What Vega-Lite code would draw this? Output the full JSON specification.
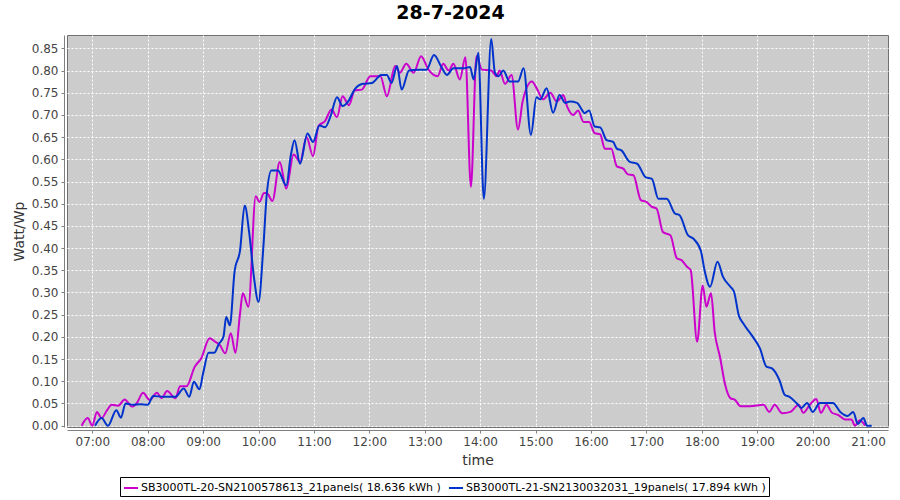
{
  "$schema": "https://vega.github.io/schema/vega-lite/v6.json",
  "width": 821,
  "height": 392,
  "autosize": {"type": "none"},
  "padding": {"left": 67, "top": 35, "right": 12, "bottom": 73},
  "background": "white",
  "title": {"text": "28-7-2024", "font": "DejaVu Sans", "fontSize": 19, "fontWeight": "bold", "color": "#000000", "anchor": "middle", "frame": "group", "dx": -27, "offset": 12},
  "config": {
    "view": {"fill": "#cccccc", "stroke": "#707070", "strokeWidth": 1},
    "axis": {"labelFont": "DejaVu Sans", "labelFontSize": 12, "labelColor": "#444444", "titleFont": "DejaVu Sans", "titleFontSize": 14, "titleFontWeight": "normal", "titleColor": "#333333", "gridColor": "#ffffff", "gridDash": [2, 2], "gridWidth": 1, "gridOpacity": 1, "domainColor": "#808080", "tickColor": "#808080", "tickSize": 3}
  },
  "data": {"values": [
    {"series": "SB3000TL-20-SN2100578613_21panels( 18.636 kWh )", "time": "2024-07-28T06:48:30", "v": 0.0},
    {"series": "SB3000TL-20-SN2100578613_21panels( 18.636 kWh )", "time": "2024-07-28T06:55", "v": 0.017},
    {"series": "SB3000TL-20-SN2100578613_21panels( 18.636 kWh )", "time": "2024-07-28T07:00", "v": 0.0},
    {"series": "SB3000TL-20-SN2100578613_21panels( 18.636 kWh )", "time": "2024-07-28T07:05", "v": 0.031},
    {"series": "SB3000TL-20-SN2100578613_21panels( 18.636 kWh )", "time": "2024-07-28T07:10", "v": 0.017},
    {"series": "SB3000TL-20-SN2100578613_21panels( 18.636 kWh )", "time": "2024-07-28T07:16", "v": 0.035},
    {"series": "SB3000TL-20-SN2100578613_21panels( 18.636 kWh )", "time": "2024-07-28T07:21", "v": 0.047},
    {"series": "SB3000TL-20-SN2100578613_21panels( 18.636 kWh )", "time": "2024-07-28T07:28", "v": 0.045},
    {"series": "SB3000TL-20-SN2100578613_21panels( 18.636 kWh )", "time": "2024-07-28T07:35", "v": 0.059},
    {"series": "SB3000TL-20-SN2100578613_21panels( 18.636 kWh )", "time": "2024-07-28T07:43", "v": 0.043},
    {"series": "SB3000TL-20-SN2100578613_21panels( 18.636 kWh )", "time": "2024-07-28T07:48", "v": 0.05},
    {"series": "SB3000TL-20-SN2100578613_21panels( 18.636 kWh )", "time": "2024-07-28T07:55", "v": 0.074},
    {"series": "SB3000TL-20-SN2100578613_21panels( 18.636 kWh )", "time": "2024-07-28T08:02", "v": 0.058},
    {"series": "SB3000TL-20-SN2100578613_21panels( 18.636 kWh )", "time": "2024-07-28T08:10", "v": 0.074},
    {"series": "SB3000TL-20-SN2100578613_21panels( 18.636 kWh )", "time": "2024-07-28T08:15", "v": 0.062},
    {"series": "SB3000TL-20-SN2100578613_21panels( 18.636 kWh )", "time": "2024-07-28T08:21", "v": 0.078},
    {"series": "SB3000TL-20-SN2100578613_21panels( 18.636 kWh )", "time": "2024-07-28T08:30", "v": 0.062},
    {"series": "SB3000TL-20-SN2100578613_21panels( 18.636 kWh )", "time": "2024-07-28T08:35", "v": 0.089},
    {"series": "SB3000TL-20-SN2100578613_21panels( 18.636 kWh )", "time": "2024-07-28T08:42", "v": 0.089},
    {"series": "SB3000TL-20-SN2100578613_21panels( 18.636 kWh )", "time": "2024-07-28T08:51", "v": 0.133},
    {"series": "SB3000TL-20-SN2100578613_21panels( 18.636 kWh )", "time": "2024-07-28T08:58", "v": 0.152},
    {"series": "SB3000TL-20-SN2100578613_21panels( 18.636 kWh )", "time": "2024-07-28T09:07", "v": 0.197},
    {"series": "SB3000TL-20-SN2100578613_21panels( 18.636 kWh )", "time": "2024-07-28T09:13", "v": 0.189},
    {"series": "SB3000TL-20-SN2100578613_21panels( 18.636 kWh )", "time": "2024-07-28T09:18", "v": 0.182},
    {"series": "SB3000TL-20-SN2100578613_21panels( 18.636 kWh )", "time": "2024-07-28T09:24", "v": 0.163},
    {"series": "SB3000TL-20-SN2100578613_21panels( 18.636 kWh )", "time": "2024-07-28T09:30", "v": 0.208},
    {"series": "SB3000TL-20-SN2100578613_21panels( 18.636 kWh )", "time": "2024-07-28T09:35", "v": 0.164},
    {"series": "SB3000TL-20-SN2100578613_21panels( 18.636 kWh )", "time": "2024-07-28T09:40", "v": 0.253},
    {"series": "SB3000TL-20-SN2100578613_21panels( 18.636 kWh )", "time": "2024-07-28T09:43", "v": 0.298},
    {"series": "SB3000TL-20-SN2100578613_21panels( 18.636 kWh )", "time": "2024-07-28T09:49", "v": 0.268},
    {"series": "SB3000TL-20-SN2100578613_21panels( 18.636 kWh )", "time": "2024-07-28T09:57", "v": 0.517},
    {"series": "SB3000TL-20-SN2100578613_21panels( 18.636 kWh )", "time": "2024-07-28T10:01", "v": 0.504},
    {"series": "SB3000TL-20-SN2100578613_21panels( 18.636 kWh )", "time": "2024-07-28T10:06", "v": 0.524},
    {"series": "SB3000TL-20-SN2100578613_21panels( 18.636 kWh )", "time": "2024-07-28T10:09", "v": 0.524},
    {"series": "SB3000TL-20-SN2100578613_21panels( 18.636 kWh )", "time": "2024-07-28T10:15", "v": 0.506},
    {"series": "SB3000TL-20-SN2100578613_21panels( 18.636 kWh )", "time": "2024-07-28T10:23", "v": 0.594},
    {"series": "SB3000TL-20-SN2100578613_21panels( 18.636 kWh )", "time": "2024-07-28T10:30", "v": 0.534},
    {"series": "SB3000TL-20-SN2100578613_21panels( 18.636 kWh )", "time": "2024-07-28T10:38", "v": 0.611},
    {"series": "SB3000TL-20-SN2100578613_21panels( 18.636 kWh )", "time": "2024-07-28T10:45", "v": 0.594},
    {"series": "SB3000TL-20-SN2100578613_21panels( 18.636 kWh )", "time": "2024-07-28T10:52", "v": 0.65},
    {"series": "SB3000TL-20-SN2100578613_21panels( 18.636 kWh )", "time": "2024-07-28T10:59", "v": 0.607},
    {"series": "SB3000TL-20-SN2100578613_21panels( 18.636 kWh )", "time": "2024-07-28T11:05", "v": 0.675},
    {"series": "SB3000TL-20-SN2100578613_21panels( 18.636 kWh )", "time": "2024-07-28T11:12", "v": 0.686},
    {"series": "SB3000TL-20-SN2100578613_21panels( 18.636 kWh )", "time": "2024-07-28T11:19", "v": 0.712},
    {"series": "SB3000TL-20-SN2100578613_21panels( 18.636 kWh )", "time": "2024-07-28T11:25", "v": 0.695},
    {"series": "SB3000TL-20-SN2100578613_21panels( 18.636 kWh )", "time": "2024-07-28T11:31", "v": 0.742},
    {"series": "SB3000TL-20-SN2100578613_21panels( 18.636 kWh )", "time": "2024-07-28T11:38", "v": 0.722},
    {"series": "SB3000TL-20-SN2100578613_21panels( 18.636 kWh )", "time": "2024-07-28T11:44", "v": 0.755},
    {"series": "SB3000TL-20-SN2100578613_21panels( 18.636 kWh )", "time": "2024-07-28T11:52", "v": 0.757},
    {"series": "SB3000TL-20-SN2100578613_21panels( 18.636 kWh )", "time": "2024-07-28T12:01", "v": 0.787},
    {"series": "SB3000TL-20-SN2100578613_21panels( 18.636 kWh )", "time": "2024-07-28T12:12", "v": 0.787},
    {"series": "SB3000TL-20-SN2100578613_21panels( 18.636 kWh )", "time": "2024-07-28T12:19", "v": 0.742},
    {"series": "SB3000TL-20-SN2100578613_21panels( 18.636 kWh )", "time": "2024-07-28T12:28", "v": 0.81},
    {"series": "SB3000TL-20-SN2100578613_21panels( 18.636 kWh )", "time": "2024-07-28T12:33", "v": 0.795},
    {"series": "SB3000TL-20-SN2100578613_21panels( 18.636 kWh )", "time": "2024-07-28T12:40", "v": 0.815},
    {"series": "SB3000TL-20-SN2100578613_21panels( 18.636 kWh )", "time": "2024-07-28T12:48", "v": 0.795},
    {"series": "SB3000TL-20-SN2100578613_21panels( 18.636 kWh )", "time": "2024-07-28T12:56", "v": 0.832},
    {"series": "SB3000TL-20-SN2100578613_21panels( 18.636 kWh )", "time": "2024-07-28T13:04", "v": 0.802},
    {"series": "SB3000TL-20-SN2100578613_21panels( 18.636 kWh )", "time": "2024-07-28T13:14", "v": 0.787},
    {"series": "SB3000TL-20-SN2100578613_21panels( 18.636 kWh )", "time": "2024-07-28T13:20", "v": 0.815},
    {"series": "SB3000TL-20-SN2100578613_21panels( 18.636 kWh )", "time": "2024-07-28T13:26", "v": 0.8},
    {"series": "SB3000TL-20-SN2100578613_21panels( 18.636 kWh )", "time": "2024-07-28T13:31", "v": 0.815},
    {"series": "SB3000TL-20-SN2100578613_21panels( 18.636 kWh )", "time": "2024-07-28T13:38", "v": 0.78},
    {"series": "SB3000TL-20-SN2100578613_21panels( 18.636 kWh )", "time": "2024-07-28T13:44", "v": 0.83},
    {"series": "SB3000TL-20-SN2100578613_21panels( 18.636 kWh )", "time": "2024-07-28T13:50", "v": 0.538},
    {"series": "SB3000TL-20-SN2100578613_21panels( 18.636 kWh )", "time": "2024-07-28T13:56", "v": 0.832},
    {"series": "SB3000TL-20-SN2100578613_21panels( 18.636 kWh )", "time": "2024-07-28T14:02", "v": 0.802},
    {"series": "SB3000TL-20-SN2100578613_21panels( 18.636 kWh )", "time": "2024-07-28T14:12", "v": 0.8},
    {"series": "SB3000TL-20-SN2100578613_21panels( 18.636 kWh )", "time": "2024-07-28T14:18", "v": 0.787},
    {"series": "SB3000TL-20-SN2100578613_21panels( 18.636 kWh )", "time": "2024-07-28T14:21", "v": 0.8},
    {"series": "SB3000TL-20-SN2100578613_21panels( 18.636 kWh )", "time": "2024-07-28T14:27", "v": 0.77},
    {"series": "SB3000TL-20-SN2100578613_21panels( 18.636 kWh )", "time": "2024-07-28T14:34", "v": 0.79},
    {"series": "SB3000TL-20-SN2100578613_21panels( 18.636 kWh )", "time": "2024-07-28T14:41", "v": 0.667},
    {"series": "SB3000TL-20-SN2100578613_21panels( 18.636 kWh )", "time": "2024-07-28T14:46", "v": 0.73},
    {"series": "SB3000TL-20-SN2100578613_21panels( 18.636 kWh )", "time": "2024-07-28T14:56", "v": 0.775},
    {"series": "SB3000TL-20-SN2100578613_21panels( 18.636 kWh )", "time": "2024-07-28T15:02", "v": 0.757},
    {"series": "SB3000TL-20-SN2100578613_21panels( 18.636 kWh )", "time": "2024-07-28T15:08", "v": 0.735},
    {"series": "SB3000TL-20-SN2100578613_21panels( 18.636 kWh )", "time": "2024-07-28T15:16", "v": 0.75},
    {"series": "SB3000TL-20-SN2100578613_21panels( 18.636 kWh )", "time": "2024-07-28T15:23", "v": 0.73},
    {"series": "SB3000TL-20-SN2100578613_21panels( 18.636 kWh )", "time": "2024-07-28T15:30", "v": 0.745},
    {"series": "SB3000TL-20-SN2100578613_21panels( 18.636 kWh )", "time": "2024-07-28T15:34", "v": 0.72},
    {"series": "SB3000TL-20-SN2100578613_21panels( 18.636 kWh )", "time": "2024-07-28T15:41", "v": 0.7},
    {"series": "SB3000TL-20-SN2100578613_21panels( 18.636 kWh )", "time": "2024-07-28T15:46", "v": 0.71},
    {"series": "SB3000TL-20-SN2100578613_21panels( 18.636 kWh )", "time": "2024-07-28T15:52", "v": 0.684},
    {"series": "SB3000TL-20-SN2100578613_21panels( 18.636 kWh )", "time": "2024-07-28T15:58", "v": 0.684},
    {"series": "SB3000TL-20-SN2100578613_21panels( 18.636 kWh )", "time": "2024-07-28T16:04", "v": 0.659},
    {"series": "SB3000TL-20-SN2100578613_21panels( 18.636 kWh )", "time": "2024-07-28T16:10", "v": 0.656},
    {"series": "SB3000TL-20-SN2100578613_21panels( 18.636 kWh )", "time": "2024-07-28T16:15", "v": 0.624},
    {"series": "SB3000TL-20-SN2100578613_21panels( 18.636 kWh )", "time": "2024-07-28T16:22", "v": 0.624},
    {"series": "SB3000TL-20-SN2100578613_21panels( 18.636 kWh )", "time": "2024-07-28T16:28", "v": 0.584},
    {"series": "SB3000TL-20-SN2100578613_21panels( 18.636 kWh )", "time": "2024-07-28T16:35", "v": 0.579},
    {"series": "SB3000TL-20-SN2100578613_21panels( 18.636 kWh )", "time": "2024-07-28T16:40", "v": 0.566},
    {"series": "SB3000TL-20-SN2100578613_21panels( 18.636 kWh )", "time": "2024-07-28T16:46", "v": 0.564},
    {"series": "SB3000TL-20-SN2100578613_21panels( 18.636 kWh )", "time": "2024-07-28T16:54", "v": 0.508},
    {"series": "SB3000TL-20-SN2100578613_21panels( 18.636 kWh )", "time": "2024-07-28T17:00", "v": 0.504},
    {"series": "SB3000TL-20-SN2100578613_21panels( 18.636 kWh )", "time": "2024-07-28T17:06", "v": 0.493},
    {"series": "SB3000TL-20-SN2100578613_21panels( 18.636 kWh )", "time": "2024-07-28T17:11", "v": 0.489},
    {"series": "SB3000TL-20-SN2100578613_21panels( 18.636 kWh )", "time": "2024-07-28T17:18", "v": 0.436},
    {"series": "SB3000TL-20-SN2100578613_21panels( 18.636 kWh )", "time": "2024-07-28T17:26", "v": 0.429},
    {"series": "SB3000TL-20-SN2100578613_21panels( 18.636 kWh )", "time": "2024-07-28T17:33", "v": 0.377},
    {"series": "SB3000TL-20-SN2100578613_21panels( 18.636 kWh )", "time": "2024-07-28T17:38", "v": 0.373},
    {"series": "SB3000TL-20-SN2100578613_21panels( 18.636 kWh )", "time": "2024-07-28T17:44", "v": 0.358},
    {"series": "SB3000TL-20-SN2100578613_21panels( 18.636 kWh )", "time": "2024-07-28T17:48", "v": 0.35},
    {"series": "SB3000TL-20-SN2100578613_21panels( 18.636 kWh )", "time": "2024-07-28T17:55", "v": 0.189},
    {"series": "SB3000TL-20-SN2100578613_21panels( 18.636 kWh )", "time": "2024-07-28T18:01", "v": 0.316},
    {"series": "SB3000TL-20-SN2100578613_21panels( 18.636 kWh )", "time": "2024-07-28T18:05", "v": 0.268},
    {"series": "SB3000TL-20-SN2100578613_21panels( 18.636 kWh )", "time": "2024-07-28T18:10", "v": 0.298},
    {"series": "SB3000TL-20-SN2100578613_21panels( 18.636 kWh )", "time": "2024-07-28T18:14", "v": 0.211},
    {"series": "SB3000TL-20-SN2100578613_21panels( 18.636 kWh )", "time": "2024-07-28T18:20", "v": 0.152},
    {"series": "SB3000TL-20-SN2100578613_21panels( 18.636 kWh )", "time": "2024-07-28T18:25", "v": 0.095},
    {"series": "SB3000TL-20-SN2100578613_21panels( 18.636 kWh )", "time": "2024-07-28T18:31", "v": 0.062},
    {"series": "SB3000TL-20-SN2100578613_21panels( 18.636 kWh )", "time": "2024-07-28T18:36", "v": 0.058},
    {"series": "SB3000TL-20-SN2100578613_21panels( 18.636 kWh )", "time": "2024-07-28T18:42", "v": 0.044},
    {"series": "SB3000TL-20-SN2100578613_21panels( 18.636 kWh )", "time": "2024-07-28T18:52", "v": 0.044},
    {"series": "SB3000TL-20-SN2100578613_21panels( 18.636 kWh )", "time": "2024-07-28T19:07", "v": 0.047},
    {"series": "SB3000TL-20-SN2100578613_21panels( 18.636 kWh )", "time": "2024-07-28T19:13", "v": 0.031},
    {"series": "SB3000TL-20-SN2100578613_21panels( 18.636 kWh )", "time": "2024-07-28T19:19", "v": 0.047},
    {"series": "SB3000TL-20-SN2100578613_21panels( 18.636 kWh )", "time": "2024-07-28T19:27", "v": 0.028},
    {"series": "SB3000TL-20-SN2100578613_21panels( 18.636 kWh )", "time": "2024-07-28T19:36", "v": 0.031},
    {"series": "SB3000TL-20-SN2100578613_21panels( 18.636 kWh )", "time": "2024-07-28T19:45", "v": 0.047},
    {"series": "SB3000TL-20-SN2100578613_21panels( 18.636 kWh )", "time": "2024-07-28T19:50", "v": 0.029},
    {"series": "SB3000TL-20-SN2100578613_21panels( 18.636 kWh )", "time": "2024-07-28T19:57", "v": 0.047},
    {"series": "SB3000TL-20-SN2100578613_21panels( 18.636 kWh )", "time": "2024-07-28T20:04", "v": 0.06},
    {"series": "SB3000TL-20-SN2100578613_21panels( 18.636 kWh )", "time": "2024-07-28T20:09", "v": 0.029},
    {"series": "SB3000TL-20-SN2100578613_21panels( 18.636 kWh )", "time": "2024-07-28T20:15", "v": 0.047},
    {"series": "SB3000TL-20-SN2100578613_21panels( 18.636 kWh )", "time": "2024-07-28T20:21", "v": 0.029},
    {"series": "SB3000TL-20-SN2100578613_21panels( 18.636 kWh )", "time": "2024-07-28T20:28", "v": 0.024},
    {"series": "SB3000TL-20-SN2100578613_21panels( 18.636 kWh )", "time": "2024-07-28T20:35", "v": 0.014},
    {"series": "SB3000TL-20-SN2100578613_21panels( 18.636 kWh )", "time": "2024-07-28T20:42", "v": 0.014},
    {"series": "SB3000TL-20-SN2100578613_21panels( 18.636 kWh )", "time": "2024-07-28T20:46", "v": 0.0},
    {"series": "SB3000TL-20-SN2100578613_21panels( 18.636 kWh )", "time": "2024-07-28T20:51", "v": 0.012},
    {"series": "SB3000TL-20-SN2100578613_21panels( 18.636 kWh )", "time": "2024-07-28T20:57", "v": 0.0},
    {"series": "SB3000TL-21-SN2130032031_19panels( 17.894 kWh )", "time": "2024-07-28T07:03", "v": 0.0},
    {"series": "SB3000TL-21-SN2130032031_19panels( 17.894 kWh )", "time": "2024-07-28T07:10", "v": 0.017},
    {"series": "SB3000TL-21-SN2130032031_19panels( 17.894 kWh )", "time": "2024-07-28T07:17", "v": 0.0},
    {"series": "SB3000TL-21-SN2130032031_19panels( 17.894 kWh )", "time": "2024-07-28T07:26", "v": 0.035},
    {"series": "SB3000TL-21-SN2130032031_19panels( 17.894 kWh )", "time": "2024-07-28T07:31", "v": 0.018},
    {"series": "SB3000TL-21-SN2130032031_19panels( 17.894 kWh )", "time": "2024-07-28T07:36", "v": 0.05},
    {"series": "SB3000TL-21-SN2130032031_19panels( 17.894 kWh )", "time": "2024-07-28T07:44", "v": 0.047},
    {"series": "SB3000TL-21-SN2130032031_19panels( 17.894 kWh )", "time": "2024-07-28T07:52", "v": 0.048},
    {"series": "SB3000TL-21-SN2130032031_19panels( 17.894 kWh )", "time": "2024-07-28T08:00", "v": 0.047},
    {"series": "SB3000TL-21-SN2130032031_19panels( 17.894 kWh )", "time": "2024-07-28T08:06", "v": 0.067},
    {"series": "SB3000TL-21-SN2130032031_19panels( 17.894 kWh )", "time": "2024-07-28T08:17", "v": 0.065},
    {"series": "SB3000TL-21-SN2130032031_19panels( 17.894 kWh )", "time": "2024-07-28T08:30", "v": 0.065},
    {"series": "SB3000TL-21-SN2130032031_19panels( 17.894 kWh )", "time": "2024-07-28T08:39", "v": 0.084},
    {"series": "SB3000TL-21-SN2130032031_19panels( 17.894 kWh )", "time": "2024-07-28T08:45", "v": 0.065},
    {"series": "SB3000TL-21-SN2130032031_19panels( 17.894 kWh )", "time": "2024-07-28T08:50", "v": 0.099},
    {"series": "SB3000TL-21-SN2130032031_19panels( 17.894 kWh )", "time": "2024-07-28T08:56", "v": 0.082},
    {"series": "SB3000TL-21-SN2130032031_19panels( 17.894 kWh )", "time": "2024-07-28T09:00", "v": 0.118},
    {"series": "SB3000TL-21-SN2130032031_19panels( 17.894 kWh )", "time": "2024-07-28T09:06", "v": 0.164},
    {"series": "SB3000TL-21-SN2130032031_19panels( 17.894 kWh )", "time": "2024-07-28T09:12", "v": 0.164},
    {"series": "SB3000TL-21-SN2130032031_19panels( 17.894 kWh )", "time": "2024-07-28T09:17", "v": 0.184},
    {"series": "SB3000TL-21-SN2130032031_19panels( 17.894 kWh )", "time": "2024-07-28T09:22", "v": 0.2},
    {"series": "SB3000TL-21-SN2130032031_19panels( 17.894 kWh )", "time": "2024-07-28T09:25", "v": 0.245},
    {"series": "SB3000TL-21-SN2130032031_19panels( 17.894 kWh )", "time": "2024-07-28T09:29", "v": 0.226},
    {"series": "SB3000TL-21-SN2130032031_19panels( 17.894 kWh )", "time": "2024-07-28T09:34", "v": 0.346},
    {"series": "SB3000TL-21-SN2130032031_19panels( 17.894 kWh )", "time": "2024-07-28T09:40", "v": 0.395},
    {"series": "SB3000TL-21-SN2130032031_19panels( 17.894 kWh )", "time": "2024-07-28T09:45", "v": 0.496},
    {"series": "SB3000TL-21-SN2130032031_19panels( 17.894 kWh )", "time": "2024-07-28T09:50", "v": 0.433},
    {"series": "SB3000TL-21-SN2130032031_19panels( 17.894 kWh )", "time": "2024-07-28T09:55", "v": 0.335},
    {"series": "SB3000TL-21-SN2130032031_19panels( 17.894 kWh )", "time": "2024-07-28T10:00", "v": 0.279},
    {"series": "SB3000TL-21-SN2130032031_19panels( 17.894 kWh )", "time": "2024-07-28T10:05", "v": 0.395},
    {"series": "SB3000TL-21-SN2130032031_19panels( 17.894 kWh )", "time": "2024-07-28T10:09", "v": 0.523},
    {"series": "SB3000TL-21-SN2130032031_19panels( 17.894 kWh )", "time": "2024-07-28T10:14", "v": 0.575},
    {"series": "SB3000TL-21-SN2130032031_19panels( 17.894 kWh )", "time": "2024-07-28T10:21", "v": 0.575},
    {"series": "SB3000TL-21-SN2130032031_19panels( 17.894 kWh )", "time": "2024-07-28T10:30", "v": 0.541},
    {"series": "SB3000TL-21-SN2130032031_19panels( 17.894 kWh )", "time": "2024-07-28T10:35", "v": 0.609},
    {"series": "SB3000TL-21-SN2130032031_19panels( 17.894 kWh )", "time": "2024-07-28T10:39", "v": 0.643},
    {"series": "SB3000TL-21-SN2130032031_19panels( 17.894 kWh )", "time": "2024-07-28T10:45", "v": 0.59},
    {"series": "SB3000TL-21-SN2130032031_19panels( 17.894 kWh )", "time": "2024-07-28T10:53", "v": 0.658},
    {"series": "SB3000TL-21-SN2130032031_19panels( 17.894 kWh )", "time": "2024-07-28T10:59", "v": 0.639},
    {"series": "SB3000TL-21-SN2130032031_19panels( 17.894 kWh )", "time": "2024-07-28T11:06", "v": 0.676},
    {"series": "SB3000TL-21-SN2130032031_19panels( 17.894 kWh )", "time": "2024-07-28T11:12", "v": 0.672},
    {"series": "SB3000TL-21-SN2130032031_19panels( 17.894 kWh )", "time": "2024-07-28T11:18", "v": 0.697},
    {"series": "SB3000TL-21-SN2130032031_19panels( 17.894 kWh )", "time": "2024-07-28T11:25", "v": 0.74},
    {"series": "SB3000TL-21-SN2130032031_19panels( 17.894 kWh )", "time": "2024-07-28T11:31", "v": 0.72},
    {"series": "SB3000TL-21-SN2130032031_19panels( 17.894 kWh )", "time": "2024-07-28T11:37", "v": 0.73},
    {"series": "SB3000TL-21-SN2130032031_19panels( 17.894 kWh )", "time": "2024-07-28T11:44", "v": 0.757},
    {"series": "SB3000TL-21-SN2130032031_19panels( 17.894 kWh )", "time": "2024-07-28T11:53", "v": 0.77},
    {"series": "SB3000TL-21-SN2130032031_19panels( 17.894 kWh )", "time": "2024-07-28T12:03", "v": 0.772},
    {"series": "SB3000TL-21-SN2130032031_19panels( 17.894 kWh )", "time": "2024-07-28T12:13", "v": 0.79},
    {"series": "SB3000TL-21-SN2130032031_19panels( 17.894 kWh )", "time": "2024-07-28T12:19", "v": 0.79},
    {"series": "SB3000TL-21-SN2130032031_19panels( 17.894 kWh )", "time": "2024-07-28T12:24", "v": 0.772},
    {"series": "SB3000TL-21-SN2130032031_19panels( 17.894 kWh )", "time": "2024-07-28T12:30", "v": 0.81},
    {"series": "SB3000TL-21-SN2130032031_19panels( 17.894 kWh )", "time": "2024-07-28T12:35", "v": 0.757},
    {"series": "SB3000TL-21-SN2130032031_19panels( 17.894 kWh )", "time": "2024-07-28T12:43", "v": 0.8},
    {"series": "SB3000TL-21-SN2130032031_19panels( 17.894 kWh )", "time": "2024-07-28T12:53", "v": 0.802},
    {"series": "SB3000TL-21-SN2130032031_19panels( 17.894 kWh )", "time": "2024-07-28T13:02", "v": 0.802},
    {"series": "SB3000TL-21-SN2130032031_19panels( 17.894 kWh )", "time": "2024-07-28T13:10", "v": 0.835},
    {"series": "SB3000TL-21-SN2130032031_19panels( 17.894 kWh )", "time": "2024-07-28T13:18", "v": 0.808},
    {"series": "SB3000TL-21-SN2130032031_19panels( 17.894 kWh )", "time": "2024-07-28T13:24", "v": 0.79},
    {"series": "SB3000TL-21-SN2130032031_19panels( 17.894 kWh )", "time": "2024-07-28T13:31", "v": 0.805},
    {"series": "SB3000TL-21-SN2130032031_19panels( 17.894 kWh )", "time": "2024-07-28T13:42", "v": 0.805},
    {"series": "SB3000TL-21-SN2130032031_19panels( 17.894 kWh )", "time": "2024-07-28T13:49", "v": 0.808},
    {"series": "SB3000TL-21-SN2130032031_19panels( 17.894 kWh )", "time": "2024-07-28T13:53", "v": 0.78},
    {"series": "SB3000TL-21-SN2130032031_19panels( 17.894 kWh )", "time": "2024-07-28T13:58", "v": 0.84},
    {"series": "SB3000TL-21-SN2130032031_19panels( 17.894 kWh )", "time": "2024-07-28T14:04", "v": 0.511},
    {"series": "SB3000TL-21-SN2130032031_19panels( 17.894 kWh )", "time": "2024-07-28T14:12", "v": 0.871},
    {"series": "SB3000TL-21-SN2130032031_19panels( 17.894 kWh )", "time": "2024-07-28T14:16", "v": 0.795},
    {"series": "SB3000TL-21-SN2130032031_19panels( 17.894 kWh )", "time": "2024-07-28T14:20", "v": 0.787},
    {"series": "SB3000TL-21-SN2130032031_19panels( 17.894 kWh )", "time": "2024-07-28T14:25", "v": 0.8},
    {"series": "SB3000TL-21-SN2130032031_19panels( 17.894 kWh )", "time": "2024-07-28T14:32", "v": 0.775},
    {"series": "SB3000TL-21-SN2130032031_19panels( 17.894 kWh )", "time": "2024-07-28T14:41", "v": 0.775},
    {"series": "SB3000TL-21-SN2130032031_19panels( 17.894 kWh )", "time": "2024-07-28T14:47", "v": 0.805},
    {"series": "SB3000TL-21-SN2130032031_19panels( 17.894 kWh )", "time": "2024-07-28T14:55", "v": 0.655},
    {"series": "SB3000TL-21-SN2130032031_19panels( 17.894 kWh )", "time": "2024-07-28T15:01", "v": 0.74},
    {"series": "SB3000TL-21-SN2130032031_19panels( 17.894 kWh )", "time": "2024-07-28T15:05", "v": 0.735},
    {"series": "SB3000TL-21-SN2130032031_19panels( 17.894 kWh )", "time": "2024-07-28T15:12", "v": 0.76},
    {"series": "SB3000TL-21-SN2130032031_19panels( 17.894 kWh )", "time": "2024-07-28T15:19", "v": 0.705},
    {"series": "SB3000TL-21-SN2130032031_19panels( 17.894 kWh )", "time": "2024-07-28T15:26", "v": 0.745},
    {"series": "SB3000TL-21-SN2130032031_19panels( 17.894 kWh )", "time": "2024-07-28T15:32", "v": 0.727},
    {"series": "SB3000TL-21-SN2130032031_19panels( 17.894 kWh )", "time": "2024-07-28T15:37", "v": 0.73},
    {"series": "SB3000TL-21-SN2130032031_19panels( 17.894 kWh )", "time": "2024-07-28T15:45", "v": 0.727},
    {"series": "SB3000TL-21-SN2130032031_19panels( 17.894 kWh )", "time": "2024-07-28T15:50", "v": 0.712},
    {"series": "SB3000TL-21-SN2130032031_19panels( 17.894 kWh )", "time": "2024-07-28T15:53", "v": 0.704},
    {"series": "SB3000TL-21-SN2130032031_19panels( 17.894 kWh )", "time": "2024-07-28T15:58", "v": 0.71},
    {"series": "SB3000TL-21-SN2130032031_19panels( 17.894 kWh )", "time": "2024-07-28T16:04", "v": 0.674},
    {"series": "SB3000TL-21-SN2130032031_19panels( 17.894 kWh )", "time": "2024-07-28T16:10", "v": 0.672},
    {"series": "SB3000TL-21-SN2130032031_19panels( 17.894 kWh )", "time": "2024-07-28T16:17", "v": 0.643},
    {"series": "SB3000TL-21-SN2130032031_19panels( 17.894 kWh )", "time": "2024-07-28T16:24", "v": 0.639},
    {"series": "SB3000TL-21-SN2130032031_19panels( 17.894 kWh )", "time": "2024-07-28T16:28", "v": 0.624},
    {"series": "SB3000TL-21-SN2130032031_19panels( 17.894 kWh )", "time": "2024-07-28T16:33", "v": 0.62},
    {"series": "SB3000TL-21-SN2130032031_19panels( 17.894 kWh )", "time": "2024-07-28T16:42", "v": 0.594},
    {"series": "SB3000TL-21-SN2130032031_19panels( 17.894 kWh )", "time": "2024-07-28T16:50", "v": 0.59},
    {"series": "SB3000TL-21-SN2130032031_19panels( 17.894 kWh )", "time": "2024-07-28T16:59", "v": 0.56},
    {"series": "SB3000TL-21-SN2130032031_19panels( 17.894 kWh )", "time": "2024-07-28T17:06", "v": 0.556},
    {"series": "SB3000TL-21-SN2130032031_19panels( 17.894 kWh )", "time": "2024-07-28T17:13", "v": 0.511},
    {"series": "SB3000TL-21-SN2130032031_19panels( 17.894 kWh )", "time": "2024-07-28T17:22", "v": 0.511},
    {"series": "SB3000TL-21-SN2130032031_19panels( 17.894 kWh )", "time": "2024-07-28T17:31", "v": 0.478},
    {"series": "SB3000TL-21-SN2130032031_19panels( 17.894 kWh )", "time": "2024-07-28T17:36", "v": 0.474},
    {"series": "SB3000TL-21-SN2130032031_19panels( 17.894 kWh )", "time": "2024-07-28T17:45", "v": 0.429},
    {"series": "SB3000TL-21-SN2130032031_19panels( 17.894 kWh )", "time": "2024-07-28T17:51", "v": 0.421},
    {"series": "SB3000TL-21-SN2130032031_19panels( 17.894 kWh )", "time": "2024-07-28T17:59", "v": 0.394},
    {"series": "SB3000TL-21-SN2130032031_19panels( 17.894 kWh )", "time": "2024-07-28T18:03", "v": 0.35},
    {"series": "SB3000TL-21-SN2130032031_19panels( 17.894 kWh )", "time": "2024-07-28T18:09", "v": 0.313},
    {"series": "SB3000TL-21-SN2130032031_19panels( 17.894 kWh )", "time": "2024-07-28T18:17", "v": 0.369},
    {"series": "SB3000TL-21-SN2130032031_19panels( 17.894 kWh )", "time": "2024-07-28T18:23", "v": 0.335},
    {"series": "SB3000TL-21-SN2130032031_19panels( 17.894 kWh )", "time": "2024-07-28T18:31", "v": 0.313},
    {"series": "SB3000TL-21-SN2130032031_19panels( 17.894 kWh )", "time": "2024-07-28T18:35", "v": 0.301},
    {"series": "SB3000TL-21-SN2130032031_19panels( 17.894 kWh )", "time": "2024-07-28T18:40", "v": 0.249},
    {"series": "SB3000TL-21-SN2130032031_19panels( 17.894 kWh )", "time": "2024-07-28T18:45", "v": 0.23},
    {"series": "SB3000TL-21-SN2130032031_19panels( 17.894 kWh )", "time": "2024-07-28T18:54", "v": 0.204},
    {"series": "SB3000TL-21-SN2130032031_19panels( 17.894 kWh )", "time": "2024-07-28T19:03", "v": 0.174},
    {"series": "SB3000TL-21-SN2130032031_19panels( 17.894 kWh )", "time": "2024-07-28T19:10", "v": 0.133},
    {"series": "SB3000TL-21-SN2130032031_19panels( 17.894 kWh )", "time": "2024-07-28T19:16", "v": 0.129},
    {"series": "SB3000TL-21-SN2130032031_19panels( 17.894 kWh )", "time": "2024-07-28T19:24", "v": 0.103},
    {"series": "SB3000TL-21-SN2130032031_19panels( 17.894 kWh )", "time": "2024-07-28T19:30", "v": 0.069},
    {"series": "SB3000TL-21-SN2130032031_19panels( 17.894 kWh )", "time": "2024-07-28T19:35", "v": 0.065},
    {"series": "SB3000TL-21-SN2130032031_19panels( 17.894 kWh )", "time": "2024-07-28T19:43", "v": 0.05},
    {"series": "SB3000TL-21-SN2130032031_19panels( 17.894 kWh )", "time": "2024-07-28T19:48", "v": 0.04},
    {"series": "SB3000TL-21-SN2130032031_19panels( 17.894 kWh )", "time": "2024-07-28T19:54", "v": 0.051},
    {"series": "SB3000TL-21-SN2130032031_19panels( 17.894 kWh )", "time": "2024-07-28T20:00", "v": 0.031},
    {"series": "SB3000TL-21-SN2130032031_19panels( 17.894 kWh )", "time": "2024-07-28T20:08", "v": 0.051},
    {"series": "SB3000TL-21-SN2130032031_19panels( 17.894 kWh )", "time": "2024-07-28T20:22", "v": 0.051},
    {"series": "SB3000TL-21-SN2130032031_19panels( 17.894 kWh )", "time": "2024-07-28T20:30", "v": 0.031},
    {"series": "SB3000TL-21-SN2130032031_19panels( 17.894 kWh )", "time": "2024-07-28T20:38", "v": 0.022},
    {"series": "SB3000TL-21-SN2130032031_19panels( 17.894 kWh )", "time": "2024-07-28T20:44", "v": 0.031},
    {"series": "SB3000TL-21-SN2130032031_19panels( 17.894 kWh )", "time": "2024-07-28T20:49", "v": 0.004},
    {"series": "SB3000TL-21-SN2130032031_19panels( 17.894 kWh )", "time": "2024-07-28T20:55", "v": 0.017},
    {"series": "SB3000TL-21-SN2130032031_19panels( 17.894 kWh )", "time": "2024-07-28T20:59", "v": 0.0},
    {"series": "SB3000TL-21-SN2130032031_19panels( 17.894 kWh )", "time": "2024-07-28T21:04", "v": 0.0}
  ]},
  "mark": {"type": "line", "strokeWidth": 2, "interpolate": "monotone"},
  "encoding": {
    "x": {
      "field": "time", "type": "temporal",
      "scale": {"domain": [{"year": 2024, "month": 7, "date": 28, "hours": 6, "minutes": 32, "seconds": 36}, {"year": 2024, "month": 7, "date": 28, "hours": 21, "minutes": 21, "seconds": 40}]},
      "axis": {"title": "time", "format": "%H:%M", "values": [
        {"year": 2024, "month": 7, "date": 28, "hours": 7},
        {"year": 2024, "month": 7, "date": 28, "hours": 8},
        {"year": 2024, "month": 7, "date": 28, "hours": 9},
        {"year": 2024, "month": 7, "date": 28, "hours": 10},
        {"year": 2024, "month": 7, "date": 28, "hours": 11},
        {"year": 2024, "month": 7, "date": 28, "hours": 12},
        {"year": 2024, "month": 7, "date": 28, "hours": 13},
        {"year": 2024, "month": 7, "date": 28, "hours": 14},
        {"year": 2024, "month": 7, "date": 28, "hours": 15},
        {"year": 2024, "month": 7, "date": 28, "hours": 16},
        {"year": 2024, "month": 7, "date": 28, "hours": 17},
        {"year": 2024, "month": 7, "date": 28, "hours": 18},
        {"year": 2024, "month": 7, "date": 28, "hours": 19},
        {"year": 2024, "month": 7, "date": 28, "hours": 20},
        {"year": 2024, "month": 7, "date": 28, "hours": 21}
      ], "offset": 3, "labelPadding": 3, "titlePadding": 6, "labelFlush": false, "labelOverlap": false}
    },
    "y": {
      "field": "v", "type": "quantitative",
      "scale": {"domain": [-0.003, 0.88], "nice": false, "zero": false},
      "axis": {"title": "Watt/Wp", "format": ".2f", "values": [0, 0.05, 0.1, 0.15, 0.2, 0.25, 0.3, 0.35, 0.4, 0.45, 0.5, 0.55, 0.6, 0.65, 0.7, 0.75, 0.8, 0.85], "offset": 3, "labelPadding": 3, "titlePadding": 5}
    },
    "color": {
      "field": "series", "type": "nominal",
      "scale": {"domain": ["SB3000TL-20-SN2100578613_21panels( 18.636 kWh )", "SB3000TL-21-SN2130032031_19panels( 17.894 kWh )"], "range": ["#cc00cc", "#0033cc"]},
      "legend": {"title": null, "orient": "none", "legendX": 53, "legendY": 442, "direction": "horizontal", "columns": 2, "columnPadding": 4, "symbolType": "stroke", "symbolSize": 196, "symbolStrokeWidth": 2, "labelFont": "DejaVu Sans", "labelFontSize": 11, "labelColor": "#000000", "labelLimit": 500, "labelOffset": 2, "strokeColor": "#000000", "fillColor": "#ffffff", "padding": 3}
    }
  }
}
